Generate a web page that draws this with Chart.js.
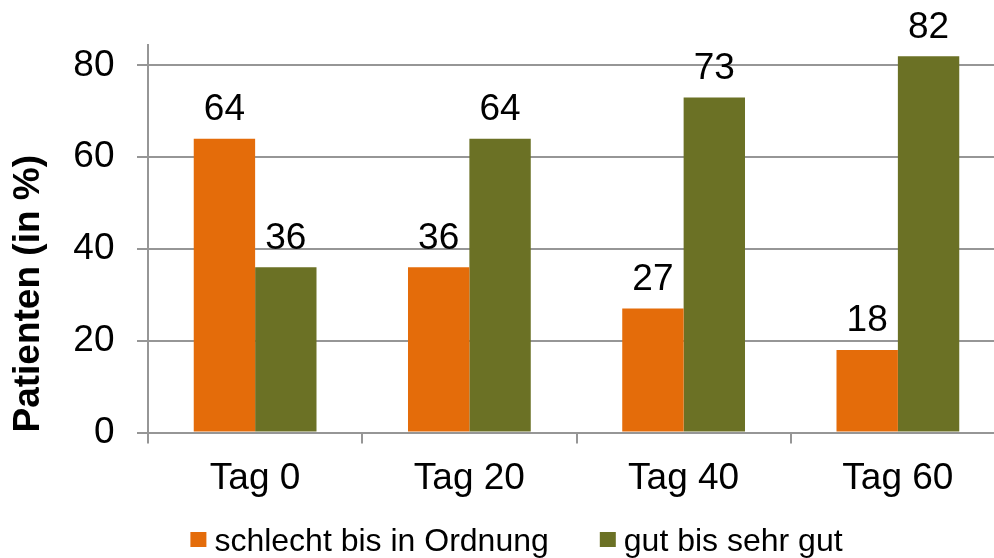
<!DOCTYPE html>
<html>
<head>
<meta charset="utf-8">
<script src="https://cdn.jsdelivr.net/npm/chart.js@4/dist/chart.umd.min.js"></script>
<style>
  html, body { margin: 0; padding: 0; background: #fff; overflow: hidden; }
  #wrap { width: 994px; height: 558px; overflow: hidden; }
</style>
</head>
<body>
<div id="wrap">
  <canvas id="chart" width="1010" height="558"></canvas>
</div>
<script>
const categories = ["Tag 0", "Tag 20", "Tag 40", "Tag 60"];
const schlecht = [64, 36, 27, 18];
const gut = [36, 64, 73, 82];
const yTicks = [0, 20, 40, 60, 80];

const font = '"Liberation Sans", Arial, sans-serif';
const gridColor = '#969696';

// value labels above each bar
const barLabels = {
    id: 'barLabels',
    afterDatasetsDraw(chart) {
        const ctx = chart.ctx;
        ctx.save();
        ctx.font = '37px ' + font;
        ctx.fillStyle = '#000';
        ctx.textAlign = 'center';
        ctx.textBaseline = 'alphabetic';
        chart.data.datasets.forEach((ds, i) => {
            chart.getDatasetMeta(i).data.forEach((bar, j) => {
                ctx.fillText(ds.data[j], bar.x, bar.y - 18.5);
            });
        });
        ctx.restore();
    }
};

// legend drawn by hand so the spacing matches the original
const bottomLegend = {
    id: 'bottomLegend',
    afterDraw(chart) {
        const ctx = chart.ctx;
        const datasets = chart.data.datasets;
        const box = 16, gap = 8, itemGap = 51;
        ctx.save();
        ctx.font = '32px ' + font;
        ctx.textBaseline = 'alphabetic';
        ctx.textAlign = 'left';
        const widths = datasets.map(ds => box + gap + ctx.measureText(ds.label).width);
        const total = widths.reduce((a, b) => a + b, 0) + itemGap * (datasets.length - 1);
        let x = 516.5 - total / 2;
        datasets.forEach((ds, i) => {
            ctx.fillStyle = ds.backgroundColor;
            ctx.fillRect(x, 532, box, 15);
            ctx.fillStyle = '#000';
            ctx.fillText(ds.label, x + box + gap, 550.5);
            x += widths[i] + itemGap;
        });
        ctx.restore();
    }
};

const ctx = document.getElementById('chart').getContext('2d');

new Chart(ctx, {
    type: 'bar',
    data: {
        labels: categories,
        datasets: [{
            label: 'schlecht bis in Ordnung',
            data: schlecht,
            backgroundColor: '#E46C0A',
            borderWidth: 0
        }, {
            label: 'gut bis sehr gut',
            data: gut,
            backgroundColor: '#6B7125',
            borderWidth: 0
        }]
    },
    options: {
        responsive: false,
        animation: false,
        layout: {
            padding: { top: 42.5, right: 5, bottom: 45.5, left: 0 }
        },
        datasets: {
            bar: {
                categoryPercentage: 0.573,
                barPercentage: 1
            }
        },
        scales: {
            x: {
                grid: {
                    offset: true,
                    drawOnChartArea: false,
                    drawTicks: true,
                    tickLength: 11,
                    color: gridColor,
                    lineWidth: 2
                },
                border: { display: true, color: gridColor, width: 2 },
                ticks: {
                    color: '#000',
                    padding: 13.5,
                    font: { family: font, size: 37 }
                },
                afterFit(scale) { scale.height = 80; }
            },
            y: {
                min: 0,
                max: 84.5,
                ticks: {
                    stepSize: 20,
                    color: '#000',
                    padding: 22.5,
                    font: { family: font, size: 37 }
                },
                afterBuildTicks(scale) {
                    scale.ticks = yTicks.map(v => ({ value: v }));
                },
                grid: {
                    drawTicks: true,
                    tickLength: 11,
                    color: gridColor,
                    lineWidth: 2
                },
                border: { display: true, color: gridColor, width: 2 },
                title: {
                    display: true,
                    text: 'Patienten (in %)',
                    align: 'start',
                    color: '#000',
                    padding: { top: 6.5, bottom: 0 },
                    font: { family: font, size: 37, weight: 'bold' }
                },
                afterFit(scale) { scale.width = 148; }
            }
        },
        plugins: {
            legend: { display: false },
            tooltip: { enabled: false }
        }
    },
    plugins: [barLabels, bottomLegend]
});
</script>
</body>
</html>
